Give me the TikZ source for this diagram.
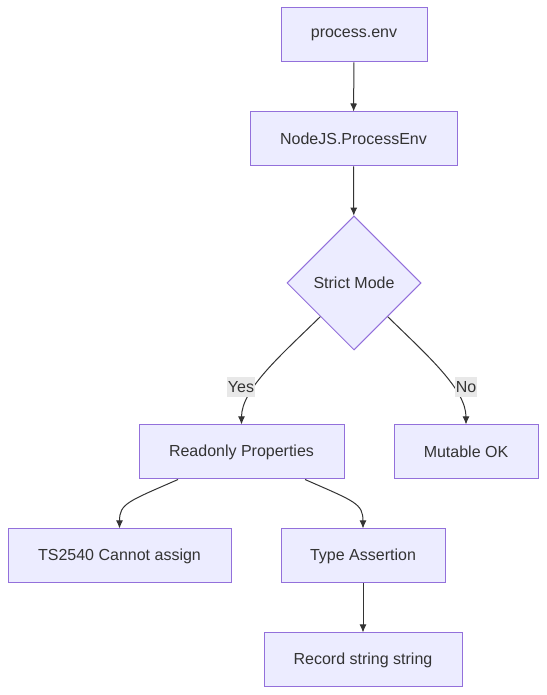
\documentclass[tikz,border=0pt]{standalone}
\usepackage{fontspec}
\setmainfont{Liberation Sans}
\usetikzlibrary{
	arrows.meta,
	shapes.geometric
}
\definecolor{boxfill}{HTML}{ECECFF}
\definecolor{boxline}{HTML}{9370DB}
\definecolor{ink}{HTML}{333333}
\definecolor{labelfill}{HTML}{E8E8E8}

\begin{document}
\begin{tikzpicture}[x=1pt, y=1pt,
	font=\fontsize{16}{19}\selectfont, text=ink,
	box/.style={draw=boxline, fill=boxfill, line width=1pt, minimum height=54pt, inner sep=0pt},
	decision/.style={diamond, draw=boxline, fill=boxfill, line width=1pt, minimum width=134pt, minimum height=134pt, inner sep=0pt},
	edgelabel/.style={fill=labelfill, inner sep=1pt, minimum height=20pt},
	link/.style={draw=ink, line width=1pt, -{Latex[length=8pt, width=7pt]}}]
	\useasboundingbox (0,0) rectangle (546,695);

	\node[box, minimum width=146pt] (penv) at (354, 660) {process.env};
	\node[box, minimum width=207pt] (nenv) at (353.5, 556) {NodeJS.ProcessEnv};
	\node[decision] (strict) at (354, 412) {Strict Mode};
	\node[box, minimum width=205pt] (ro) at (241.5, 243) {Readonly Properties};
	\node[box, minimum width=144pt] (mut) at (466, 243) {Mutable OK};
	\node[box, minimum width=223pt] (ts) at (119.5, 139) {TS2540 Cannot assign};
	\node[box, minimum width=164pt] (ta) at (363, 139) {Type Assertion};
	\node[box, minimum width=198pt] (rec) at (363, 35) {Record string string};

	\draw[link] (penv) -- (nenv);
	\draw[link] (nenv) -- (strict);
	\draw[link] (strict.south west) .. controls +(-40,-39) and +(0,35) .. (ro.north);
	\draw[link] (strict.south east) .. controls +(40,-39) and +(0,35) .. (mut.north);
	\draw[link] ([xshift=-63.5pt]ro.south) .. controls +(-50,-22) and +(0,25) .. (ts.north);
	\draw[link] ([xshift=63.5pt]ro.south) .. controls +(50,-22) and +(0,25) .. (ta.north);
	\draw[link] (ta) -- (rec);

	\node[edgelabel] (yes) at (241, 308) {Yes};
	\node[edgelabel] (no) at (466, 308) {No};

\end{tikzpicture}
\end{document}
